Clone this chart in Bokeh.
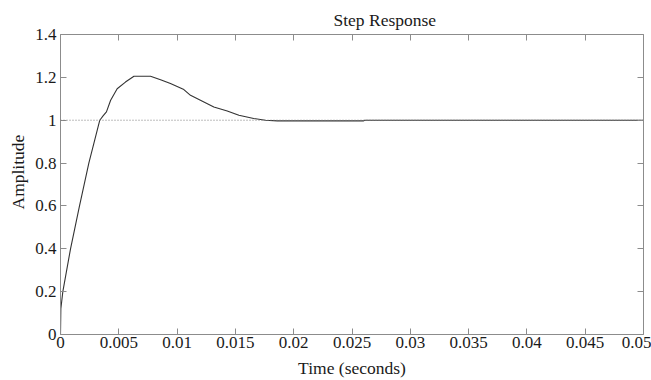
from bokeh.plotting import figure
from bokeh.models import LinearAxis, FixedTicker, Span, Title, Range1d
from bokeh.embed import file_html
from bokeh.resources import INLINE

# Step response samples
time_s = [0.0, 0.00003, 0.0002, 0.00086, 0.00163, 0.00243, 0.00337, 0.00365,
          0.00394, 0.0043, 0.00486, 0.00557, 0.0063, 0.00772, 0.00858, 0.00943,
          0.01058, 0.01115, 0.012, 0.01315, 0.0143, 0.0153, 0.01657, 0.01758,
          0.0186, 0.026, 0.0261, 0.05]
amplitude = [0.0, 0.12, 0.2, 0.4, 0.6, 0.8, 1.0, 1.02,
             1.039, 1.093, 1.147, 1.178, 1.205, 1.205, 1.189, 1.171,
             1.143, 1.116, 1.093, 1.062, 1.043, 1.023, 1.008, 1.0,
             0.997, 0.997, 1.0, 1.0]
final_value = 1.0

x_ticks = [0, 0.005, 0.01, 0.015, 0.02, 0.025, 0.03, 0.035, 0.04, 0.045, 0.05]
x_tick_labels = ["0", "0.005", "0.01", "0.015", "0.02", "0.025", "0.03",
                 "0.035", "0.04", "0.045", "0.05"]
y_ticks = [0, 0.2, 0.4, 0.6, 0.8, 1.0, 1.2, 1.4]
y_tick_labels = ["0", "0.2", "0.4", "0.6", "0.8", "1", "1.2", "1.4"]

title_text = "Step Response"
x_label_text = "Time (seconds)"
y_label_text = "Amplitude"

FONT = "Liberation Serif"
AXIS_COLOR = "#8c8c8c"
TEXT_COLOR = "#1a1a1a"

p = figure(width=651, height=380, output_backend="svg", toolbar_location=None,
           x_range=Range1d(x_ticks[0], x_ticks[-1]),
           y_range=Range1d(y_ticks[0], y_ticks[-1]),
           min_border_left=60, min_border_right=8, min_border_top=34,
           min_border_bottom=45, x_axis_location=None, y_axis_location=None)
p.outline_line_color = None
p.xgrid.visible = False
p.ygrid.visible = False
p.background_fill_color = "white"
p.border_fill_color = "white"


def style(ax, ticks, labels, show_labels):
    ax.ticker = FixedTicker(ticks=ticks)
    ax.axis_line_color = AXIS_COLOR
    ax.major_tick_line_color = AXIS_COLOR
    ax.major_tick_in = 6
    ax.major_tick_out = 0
    ax.minor_tick_line_color = None
    ax.major_label_text_font = FONT
    ax.major_label_text_color = TEXT_COLOR
    ax.major_label_text_font_size = "17px"
    ax.axis_label_text_font = FONT
    ax.axis_label_text_font_style = "normal"
    ax.axis_label_text_color = TEXT_COLOR
    ax.axis_label_text_font_size = "17.5px"
    if show_labels:
        ax.major_label_overrides = {t: l for t, l in zip(ticks, labels)}
    else:
        ax.major_label_overrides = {t: "" for t in ticks}
        ax.major_label_standoff = 0


xb = LinearAxis(axis_label=x_label_text)
style(xb, x_ticks, x_tick_labels, True)
xb.major_label_standoff = 2
xb.axis_label_standoff = 7
p.add_layout(xb, "below")

yl = LinearAxis()
style(yl, y_ticks, y_tick_labels, True)
yl.major_label_standoff = 4
p.add_layout(yl, "left")

xt = LinearAxis()
style(xt, x_ticks, x_tick_labels, False)
p.add_layout(xt, "above")

yr = LinearAxis()
style(yr, y_ticks, y_tick_labels, False)
p.add_layout(yr, "right")

p.title = Title(text=title_text, align="left", offset=273,
                text_font=FONT, text_font_size="17.5px",
                text_font_style="normal", text_color=TEXT_COLOR)

# y-axis label as a left-side title so it can sit slightly above centre
p.add_layout(Title(text=y_label_text, align="left", offset=125, standoff=9,
                   text_font=FONT, text_font_size="17.5px",
                   text_font_style="normal", text_color=TEXT_COLOR), "left")

p.add_layout(Span(location=final_value, dimension="width", line_color="#7a7a7a",
                  line_width=1, line_dash="1 2"))

p.line(time_s, amplitude, line_color="#333333", line_width=1.1)

open("out.html", "w").write(file_html(p, INLINE))
